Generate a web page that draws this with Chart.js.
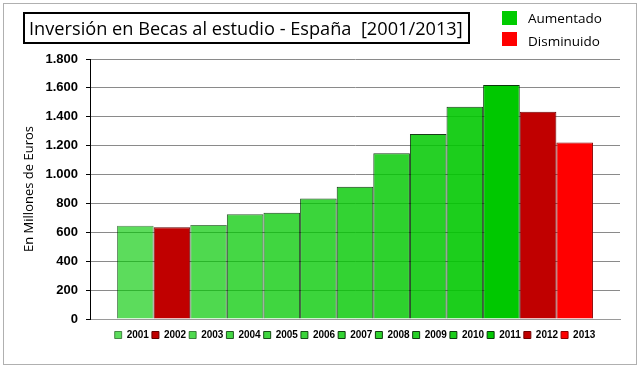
<!DOCTYPE html>
<html>
<head>
<meta charset="utf-8">
<script src="https://cdn.jsdelivr.net/npm/chart.js@4"></script>
<style>
  body { margin: 0; background: #fff; }
  #wrap { position: relative; width: 640px; height: 368px; }
  #frame { position: absolute; left: 3px; top: 3px; border: 1px solid #b0b0b0; box-sizing: border-box; width: 634px; height: 362px; }
  #title { position: absolute; left: 23px; top: 12px; width: 447px; height: 32px; border: 2px solid #000; box-sizing: border-box;
           font-family: "Open Sans", sans-serif; font-size: 18.2px; line-height: 28px; padding-left: 4px; white-space: nowrap; color: #000; }
  .key { position: absolute; left: 502px; width: 15px; height: 14px; }
  .keytxt { position: absolute; left: 528px; font-family: "Open Sans", sans-serif; font-size: 13.5px; color: #000; }
  canvas { position: absolute; left: 0; top: 0; }
</style>
</head>
<body>
<div id="wrap">
  <div id="frame"></div>
  <canvas id="becasChart" width="640" height="368"></canvas>
  <div id="title">Inversión en Becas al estudio - España&nbsp; [2001/2013]</div>
  <div class="key" style="top:11px;background:#00cc00"></div>
  <div class="keytxt" style="top:9px">Aumentado</div>
  <div class="key" style="top:32px;background:#ff0000"></div>
  <div class="keytxt" style="top:32px">Disminuido</div>
</div>
<script>
var years = ['2001', '2002', '2003', '2004', '2005', '2006', '2007', '2008', '2009', '2010', '2011', '2012', '2013'];
var inversion = [645, 635, 650, 725, 735, 835, 915, 1148, 1280, 1470, 1620, 1435, 1222];
var colores = ['rgba(0,200,0,0.64)', '#c00000', 'rgba(0,200,0,0.69)', 'rgba(0,200,0,0.73)', 'rgba(0,200,0,0.75)',
    'rgba(0,200,0,0.77)', 'rgba(0,200,0,0.8)', 'rgba(0,200,0,0.82)', 'rgba(0,200,0,0.85)', 'rgba(0,200,0,0.89)',
    '#00c800', '#c00000', '#ff0000'];
var bordes = ['rgba(0,70,0,0.6)', '#600000', 'rgba(0,70,0,0.65)', 'rgba(0,50,0,0.8)', 'rgba(0,50,0,0.85)',
    'rgba(0,50,0,0.85)', 'rgba(0,40,0,0.9)', 'rgba(0,40,0,0.9)', 'rgba(0,40,0,0.9)', 'rgba(0,40,0,0.9)',
    '#0a3a0a', '#700000', '#900000'];

var datasets = years.map(function (y, i) {
    return {
        label: y,
        data: [inversion[i]],
        backgroundColor: colores[i],
        borderColor: bordes[i],
        borderWidth: 1,
        barPercentage: 1,
        categoryPercentage: 0.898
    };
});

var ctx = document.getElementById('becasChart');
new Chart(ctx, {
    type: 'bar',
    data: {
        labels: [''],
        datasets: datasets
    },
    options: {
        responsive: false,
        animation: false,
        layout: { padding: { left: 0, right: 20, top: 59, bottom: 18 } },
        plugins: {
            title: { display: false },
            tooltip: { enabled: false },
            legend: {
                position: 'bottom',
                fullSize: false,
                labels: {
                    boxWidth: 7,
                    boxHeight: 7,
                    padding: 3,
                    color: '#000',
                    font: { family: 'Liberation Sans', size: 10, weight: 'bold' }
                }
            }
        },
        scales: {
            x: {
                ticks: { display: false },
                grid: { display: false },
                border: { color: '#9a9a9a' }
            },
            y: {
                min: 0,
                max: 1800,
                ticks: {
                    stepSize: 200,
                    padding: 8,
                    color: '#000',
                    font: { family: 'Liberation Sans', size: 13, weight: 'bold' },
                    callback: function (v) { return v.toLocaleString('es-ES', { useGrouping: true }).replace(/\s/g, '.'); }
                },
                grid: { color: '#8a8a8a', tickColor: '#000', tickLength: 4 },
                border: { color: '#000' },
                title: {
                    display: true,
                    text: 'En Millones de Euros',
                    color: '#000',
                    padding: { top: 21, bottom: 0 },
                    font: { family: 'Open Sans', size: 13 }
                },
                afterFit: function (scale) { scale.width = 90; }
            }
        }
    }
});
</script>
</body>
</html>
